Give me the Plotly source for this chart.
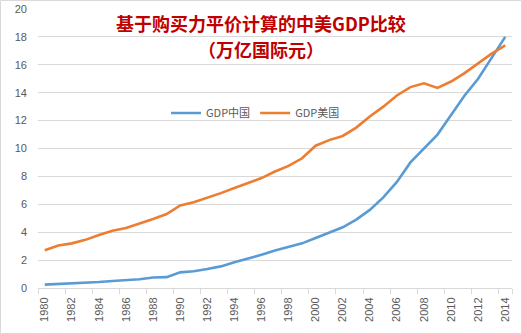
import plotly.graph_objects as go

years = list(range(1980, 2015))
china = [0.24, 0.28, 0.31, 0.36, 0.43, 0.50, 0.56, 0.63, 0.75, 0.78,
         1.12, 1.20, 1.36, 1.55, 1.84, 2.10, 2.38, 2.68, 2.96, 3.20,
         3.58, 3.95, 4.35, 4.90, 5.60, 6.50, 7.60, 9.00, 10.0, 11.0,
         12.4, 13.8, 15.0, 16.5, 18.0]
usa = [2.70, 3.05, 3.20, 3.45, 3.80, 4.10, 4.30, 4.60, 4.95, 5.30,
       5.92, 6.15, 6.45, 6.80, 7.17, 7.50, 7.88, 8.35, 8.75, 9.30,
       10.2, 10.6, 10.9, 11.5, 12.3, 13.0, 13.8, 14.4, 14.67, 14.34,
       14.8, 15.4, 16.1, 16.8, 17.4]
label_years = list(range(1980, 2015, 2))
y_ticks = list(range(0, 21, 2))

W, H = 522, 334
L, R, T, B = 38, 10, 9, 46
pw, ph = W - L - R, H - T - B

fig = go.Figure()
fig.add_trace(go.Scatter(x=years, y=china, mode="lines", name="GDP中国",
                         line=dict(color="#5B9BD5", width=2.6)))
fig.add_trace(go.Scatter(x=years, y=usa, mode="lines", name="GDP美国",
                         line=dict(color="#ED7D31", width=2.6)))

tick_font = dict(family="Liberation Sans, Arial, sans-serif", size=11, color="#595959")
title_font = dict(family="Noto Sans CJK SC, sans-serif", size=18, color="#C00000")

fig.update_layout(
    width=W, height=H,
    margin=dict(l=L, r=R, t=T, b=B, autoexpand=False),
    paper_bgcolor="white", plot_bgcolor="white",
    showlegend=True,
    legend=dict(orientation="h", x=(166 - L) / pw, y=(288 - 113) / ph,
                xanchor="left", yanchor="middle",
                font=dict(family="Noto Sans CJK SC, sans-serif", size=11, color="#595959"),
                bgcolor="rgba(0,0,0,0)", itemwidth=30, tracegroupgap=0),
    xaxis=dict(range=[1979.5, 2014.5], tickvals=label_years,
               ticktext=[str(y) for y in label_years], tickangle=-90,
               ticks="", showgrid=False, zeroline=False,
               showline=True, linecolor="#d9d9d9", linewidth=1,
               tickfont=tick_font, ticklabelstandoff=4,
               minor=dict(tickvals=[y - 0.5 for y in label_years] + [2014.5],
                          ticks="outside", ticklen=5, tickcolor="#d9d9d9", showgrid=False)),
    yaxis=dict(range=[0, 20], tickvals=y_ticks, showgrid=True, gridcolor="#d9d9d9",
               gridwidth=1, zeroline=False, showline=False, ticks="",
               tickfont=tick_font, ticklabelstandoff=10),
    annotations=[
        dict(text="<b>基于购买力平价计算的中美GDP比较</b>", x=(261 - L) / pw, y=(288 - 23) / ph,
             xref="paper", yref="paper", xanchor="center", yanchor="middle", showarrow=False,
             font=title_font),
        dict(text="<b>（万亿国际元）</b>", x=(261 - L) / pw, y=(288 - 49) / ph,
             xref="paper", yref="paper", xanchor="center", yanchor="middle", showarrow=False,
             font=title_font),
    ],
    shapes=[dict(type="rect", xref="paper", yref="paper",
                 x0=(0.5 - L) / pw, x1=(521.5 - L) / pw,
                 y0=(288 - 333.5) / ph, y1=(288 - 0.5) / ph,
                 line=dict(color="#d9d9d9", width=1), fillcolor="rgba(0,0,0,0)", layer="below")],
)

fig.write_html("out.html")
